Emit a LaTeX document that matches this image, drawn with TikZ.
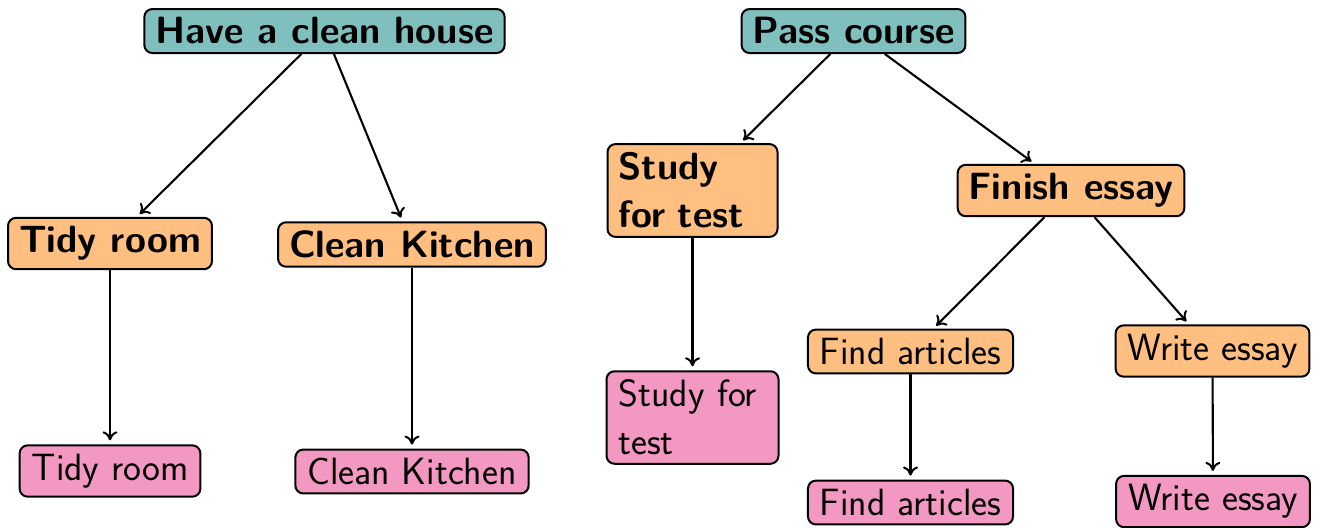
\documentclass[tikz,border=0pt]{standalone}
\usepackage{fontspec}
\usetikzlibrary{arrows.meta}
\definecolor{goalteal}{RGB}{127,191,190}
\definecolor{taskorange}{RGB}{255,191,128}
\definecolor{actpink}{RGB}{243,152,194}
\tikzset{
  box/.style={draw, line width=1pt, rounded corners=4pt, inner xsep=6pt, inner ysep=4.3pt,
    font=\sffamily\fontsize{19}{24}\selectfont},
  goal/.style={box, inner xsep=5.5pt, fill=goalteal, font=\sffamily\bfseries\fontsize{19}{24}\selectfont},
  task/.style={box, inner xsep=5.5pt, fill=taskorange, font=\sffamily\bfseries\fontsize{19}{24}\selectfont},
  subtask/.style={box, fill=taskorange},
  act/.style={box, fill=actpink},
  twoline/.style={text width=74pt, align=left},
  link/.style={-{Computer Modern Rightarrow[length=4.5pt,width=7.5pt,line width=1pt]}, line width=1.05pt, shorten >=2pt}
}
\begin{document}
\begin{tikzpicture}[x=0.5pt,y=-0.5pt]
\useasboundingbox (0,0) rectangle (1320,527);
% left tree
\node[goal] (house) at (324.5,31) {Have a clean house};
\node[task] (tidy) at (110,243.5) {Tidy room};
\node[task] (kitchen) at (412,244.5) {Clean Kitchen};
\node[act] (tidyA) at (110,471) {Tidy room};
\node[act] (kitchenA) at (412,471.5) {Clean Kitchen};
% right tree
\node[goal] (pass) at (853.5,31) {Pass course};
\node[task, twoline] (study) at (692.5,190.5) {Study\\for test};
\node[task] (essay) at (1071,190.5) {Finish essay};
\node[act, twoline] (studyA) at (692.5,417.5) {Study for\\test};
\node[subtask] (find) at (910.5,351.5) {Find articles};
\node[subtask] (write) at (1212.5,351) {Write essay};
\node[act] (findA) at (910.5,502.5) {Find articles};
\node[act] (writeA) at (1213,501.5) {Write essay};
% connectors
\draw[link] (house) -- (tidy);
\draw[link] (house) -- (kitchen);
\draw[link] (tidy) -- (tidyA);
\draw[link] (kitchen) -- (kitchenA);
\draw[link] (pass) -- (study);
\draw[link] (pass) -- (essay);
\draw[link] (study) -- (studyA);
\draw[link] (essay) -- (find);
\draw[link] (essay) -- (write);
\draw[link] (find) -- (findA);
\draw[link] (write) -- (writeA);
\end{tikzpicture}
\end{document}
